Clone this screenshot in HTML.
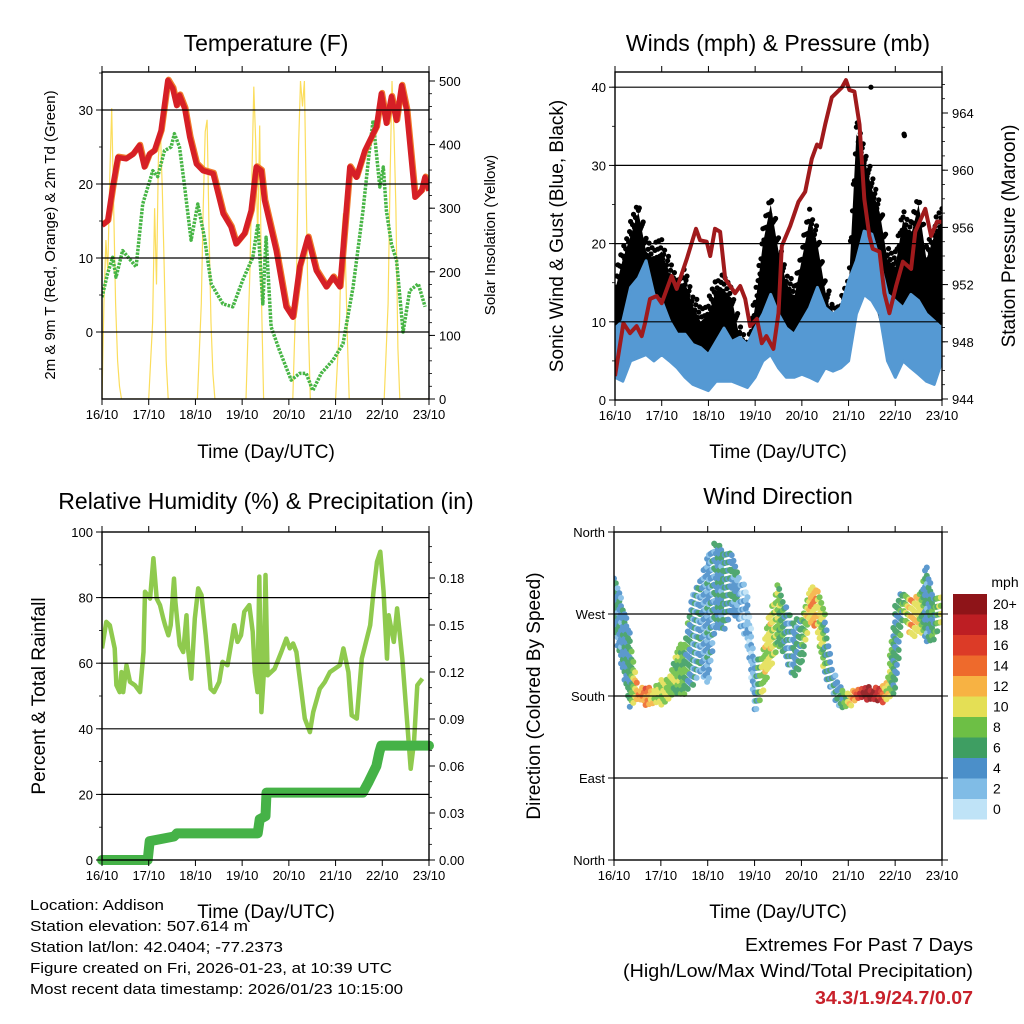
<!DOCTYPE html>
<html><head><meta charset="utf-8"><style>
html,body{margin:0;padding:0;background:#fff;}
svg{display:block;font-family:"Liberation Sans",Arial,sans-serif;}
</style></head><body>
<svg id="chart" width="1024" height="1024" viewBox="0 0 1024 1024" xmlns="http://www.w3.org/2000/svg">
<rect x="0" y="0" width="1024" height="1024" fill="#fff"/>
<text x="266" y="51" font-size="23" text-anchor="middle">Temperature (F)</text>
<text x="778" y="51" font-size="23" text-anchor="middle">Winds (mph) &amp; Pressure (mb)</text>
<text x="266" y="509" font-size="23" text-anchor="middle">Relative Humidity (%) &amp; Precipitation (in)</text>
<text x="778" y="504" font-size="23" text-anchor="middle">Wind Direction</text>
<text x="266" y="458" font-size="19" text-anchor="middle">Time (Day/UTC)</text>
<text x="778" y="458" font-size="19" text-anchor="middle">Time (Day/UTC)</text>
<text x="266" y="918" font-size="19" text-anchor="middle">Time (Day/UTC)</text>
<text x="778" y="918" font-size="19" text-anchor="middle">Time (Day/UTC)</text>
<text transform="translate(55,235) rotate(-90)" font-size="15" text-anchor="middle">2m &amp; 9m T (Red, Orange) &amp; 2m Td (Green)</text>
<text transform="translate(495,235) rotate(-90)" font-size="15" text-anchor="middle">Solar Insolation (Yellow)</text>
<text transform="translate(563,236) rotate(-90)" font-size="19" text-anchor="middle">Sonic Wind &amp; Gust (Blue, Black)</text>
<text transform="translate(1015,236) rotate(-90)" font-size="19" text-anchor="middle">Station Pressure (Maroon)</text>
<text transform="translate(45,696) rotate(-90)" font-size="19" text-anchor="middle">Percent &amp; Total Rainfall</text>
<text transform="translate(540,696) rotate(-90)" font-size="19" text-anchor="middle">Direction (Colored By Speed)</text>
<g font-size="15">
<text x="30" y="910" textLength="134" lengthAdjust="spacingAndGlyphs">Location: Addison</text>
<text x="30" y="931" textLength="218" lengthAdjust="spacingAndGlyphs">Station elevation: 507.614 m</text>
<text x="30" y="952" textLength="253" lengthAdjust="spacingAndGlyphs">Station lat/lon: 42.0404; -77.2373</text>
<text x="30" y="973" textLength="362" lengthAdjust="spacingAndGlyphs">Figure created on Fri, 2026-01-23, at 10:39 UTC</text>
<text x="30" y="994" textLength="373" lengthAdjust="spacingAndGlyphs">Most recent data timestamp: 2026/01/23 10:15:00</text>
</g>
<text x="973" y="951" font-size="18" text-anchor="end" textLength="228" lengthAdjust="spacingAndGlyphs">Extremes For Past 7 Days</text>
<text x="973" y="977" font-size="18" text-anchor="end" textLength="350" lengthAdjust="spacingAndGlyphs">(High/Low/Max Wind/Total Precipitation)</text>
<text x="973" y="1004" font-size="18" font-weight="bold" fill="#c8202a" text-anchor="end" textLength="158" lengthAdjust="spacingAndGlyphs">34.3/1.9/24.7/0.07</text>
</svg>
<script>
// ---------- data ----------
const dayLabels = ["16/10","17/10","18/10","19/10","20/10","21/10","22/10","23/10"];
const tempHours = [0,2.9,5.5,8.1,12.4,15.8,19.2,21.8,24.3,26.9,30.3,33.8,36.3,38.4,39.8,42.5,45.1,48.5,51.9,57.1,62.2,66.3,68.9,73.2,76.6,79.2,81.8,83.5,89.5,94.6,98.1,101.5,105.8,110.1,115.3,118.7,122.2,127.3,130.7,135,141,143.5,146.1,148.7,151.3,153.9,156.5,160.8,164.2,165.9,168];
const tempF = [14.4,15,19.6,23.6,23.4,24,25.2,22.3,24,24.5,27.2,34,32.9,30.6,32,30.2,26.3,22.7,21.8,21.4,16,14.2,11.9,13.3,16.4,22.3,21.8,17.8,11,3.4,2,8.8,12.8,8.3,6.1,7.4,6.1,22.3,20.9,24.5,27.7,32.2,28.2,31.8,28.6,33.3,30,18.2,19.1,20.9,19.1];
const dewHours = [0,2.9,5.5,7.2,10.6,17.5,20.9,26.1,28.6,32.1,35.5,37.2,39.8,42.3,45.8,49.2,52.6,56.1,62.1,67.2,72.3,77.5,80.1,82.6,84.3,86.9,91.2,97.2,101.5,104.9,108.3,112.6,118.7,123.8,129,134.1,137.6,139.3,142.7,144.5,146.1,148.7,151.3,154.7,158.1,162.5,166];
const dewF = [4.7,7.9,10.1,7.4,11,8.8,17.3,21.8,21,24.5,25,26.8,25,20,12.4,17.3,12.8,6.5,3.8,3.4,7,10.1,14.6,3.8,12.8,0.7,-2.5,-6.5,-5.6,-5.6,-7.9,-5.6,-3.8,-1.6,6.1,16.4,25,28.6,19.6,22.3,16.4,11.9,9.7,0,5.6,6.5,3.4];
const solarHours = [0,1,2,3,4,5,6,7,8,9,10,24,26,27,28,29,30,31,32,33,34,49,51,52,53,54,55,56,57,58,74,76,77,78,79,80,81,82,83,98,100,101,102,103,104,105,106,107,120,122,123,124,125,126,127,145,147,148,149,150,151,152,153,168];
const solarW = [0,150,250,200,350,457,300,150,60,20,0,0,120,300,180,380,423,330,200,60,0,0,150,300,420,439,260,120,40,0,0,200,350,491,400,250,430,150,0,0,200,400,500,460,500,300,120,0,0,120,250,292,230,100,0,0,150,350,500,420,300,80,0,0];
const presHours = [0,4.3,7.7,11.1,13.7,15.4,18,21.4,24,29.1,31.7,36.9,41.6,43.7,47.1,48.9,51.4,54,56.6,61.7,64.3,66.9,69.4,72.9,75.4,77.8,81.4,84,85.7,90,94.3,97.7,101.1,103.8,105.4,108,111.4,116.6,118.7,120.4,123,125.6,128.1,130.7,132.4,135.9,138.4,141,144.4,147.9,152.1,154.3,159.4,162.4,165.4,168];
const presMb = [945.6,949.3,948.6,949.1,948.4,949.3,951,951.2,950.7,952.6,951.7,953.8,955.9,955.1,955,954,955.9,955.7,952.4,951.4,951.9,951,949.1,949.6,947.9,948.4,947.5,950,954.7,956.1,957.8,958.5,960.8,961.8,961.6,963.2,965.1,965.8,966.3,965.6,965.5,963.2,958,955.4,954.5,954.3,951.4,950,951.9,953.6,953.1,955.7,957.3,955.4,956.4,956.4];
const windHours = [0,4,8,12,16,20,24,28,32,36,40,44,48,52,56,60,64,68,72,76,80,84,88,92,96,100,104,108,112,116,120,124,128,132,136,140,144,148,152,156,160,164,168];
const windLo = [2.9,2.4,5,5.4,5.8,5,5.8,5,4.1,2.9,2,1.6,1.2,2.4,2.4,2.4,2,1.6,2.9,5,5.8,4.1,2.9,2.9,3.3,2.9,2.4,4.1,3.7,4.1,5,11,13.5,12.7,11,5,2.9,5,4.1,3.3,2.4,2,5];
const windHi = [9.2,10.1,14.4,15.6,17.8,13.5,12.7,10.1,8.4,8.4,7.1,6.7,5.8,7.5,9.2,7.5,8,7.1,9.2,11,13.5,11,9.2,8.4,10.1,11.8,14.4,11.8,11,11.8,15.2,17.8,21.6,21.2,17.8,13.5,12.7,11.8,13.5,12.7,11,10.1,9.2];
const gustLo = [9,9,12,12,11,10,10,8,7,6,5,5,5,6,6,6,4,3,6,10,10,8,6,6,7,6,6,5,5,5,9,14,15,14,10,8,7,10,9,8,6,5,10];
const gustHi = [16,20,23,26,21,20,21,18,16,17,14,12,13,16,16,15,10,8,14,22,27,21,17,15,20,25,22,16,12,13,16,36,33,29,26,20,19,25,23,27,20,23,25];
const gustOutHours = [131.5,148.5,148.7];
const gustOutMph = [40,34,33.8];
const dirHours = [0,4,8,12,16,20,24,28,32,36,40,44,48,52,56,60,64,68,72,76,80,84,88,92,96,100,104,108,112,116,120,124,128,132,136,140,144,148,152,156,160,164,168];
const dirLo = [255,209,168,175,170,170,170,175,183,180,190,205,190,253,250,270,260,240,161,180,209,234,220,198,210,260,250,200,180,165,165,175,175,175,170,175,180,270,240,250,240,240,260];
const dirHi = [311,286,253,190,190,190,198,200,234,240,290,307,337,351,340,340,310,300,220,230,275,304,280,264,270,300,300,270,210,190,185,190,190,190,190,200,280,300,290,290,325,290,290];
const dirSpeed = [5,4,5,13,14,10,9,9,8,7,4,4,3,4,5,5,3,2,3,9,10,8,5,4,6,11,12,6,4,5,9,15,19,20,17,10,5,6,12,10,4,6,9];
const rhHours = [0,2.2,4,6.5,7.4,9.1,10,10.9,12.6,14.4,16.9,19.5,21.3,22.1,24.7,26.4,28.1,29.8,31.5,32.4,34.1,35.3,37,37.7,39.9,41.7,43.4,44.2,45.9,47.7,49.4,51.1,53.3,55.8,57.6,60.2,61.9,64.5,66.2,67.9,69.6,71.4,73.1,75.7,77.4,78.5,79.9,80.8,81.9,83.1,84,85.1,88.7,92.1,94.7,96.5,98.2,99.9,102.5,104.2,106.8,108.5,111.9,114.5,117.1,122.2,124,126.6,128.3,130.9,133.5,137.8,139.5,141.3,143,144.7,146.4,147.3,149.9,151.6,154.3,156.9,158.6,160.3,162,164.6];
const rhPct = [64.5,72.6,71.6,64.5,53.3,51.2,57.3,51.2,59.4,54.3,53.3,51.2,63.4,81.8,79.7,92,79.7,77.7,73.6,71.6,68.5,71.6,85.8,78.7,65.5,63.4,74.6,64.5,55.3,73.6,82.8,80.8,68.5,52.2,51.2,54.3,60.4,59.4,65.5,71.6,66.5,68.5,75.7,77.7,69.6,57.3,51.2,86.4,45.1,56.3,86.9,56.3,58.3,63.4,67.5,64.5,66,63.4,51.2,43.1,39,45.1,52.2,54.3,57.3,59.4,64.5,57.3,44.1,43.1,61.4,71.6,81.8,90.9,94,81.8,61.4,74.6,66.5,76.7,61.4,41,27.8,35.9,53.3,55.3,51.2,55.3,47.1];
const precipHours = [0,23.5,24.5,37,38.5,80,81,84,84.5,134,137,141,142.5,143.5,168];
const precipIn = [0,0,0.012,0.015,0.017,0.017,0.026,0.028,0.043,0.043,0.05,0.06,0.069,0.073,0.073];
const tempTicks = [0,10,20,30];
const solarTicks = [0,100,200,300,400,500];
const windTicks = [0,10,20,30,40];
const presTicks = [944,948,952,956,960,964];
const rhTicks = [0,20,40,60,80,100];
const precipTicks = [0,0.03,0.06,0.09,0.12,0.15,0.18];
const dirTicks = [0,90,180,270,360];
const dirTickLabels = ["North","East","South","West","North"];
const speedLevels = ["0","2","4","6","8","10","12","14","16","18","20+"];
const speedColors = ["#bfe3f7","#80bce6","#4b8fc9","#3e9e62","#6dbf45","#e4df55","#f7b243","#ee6a2c","#dc3b27","#bd1e23","#8e1418"];

// ---------- helpers ----------
const NS = "http://www.w3.org/2000/svg";
const svg = document.getElementById("chart");
function mk(tag, parent, name, interact) {
  const el = document.createElementNS(NS, tag);
  
  
  parent.appendChild(el);
  return el;
}
function setA(el, o) { for (const k in o) el.setAttribute(k, o[k]); return el; }
function lin(d0, d1, r0, r1) { return v => r0 + (v - d0) * (r1 - r0) / (d1 - d0); }
function interp(xs, ys, x) {
  if (x <= xs[0]) return ys[0];
  for (let i = 1; i < xs.length; i++) if (x <= xs[i]) { const t = (x - xs[i-1]) / (xs[i] - xs[i-1]); return ys[i-1] + t * (ys[i] - ys[i-1]); }
  return ys[ys.length - 1];
}
function polyPts(xs, ys, sx, sy) { return xs.map((h, i) => sx(h).toFixed(1) + "," + sy(ys[i]).toFixed(1)).join(" "); }

function panel(id, x0, x1, y0, y1) {
  const g = mk('g', svg, id + '-panel', false);
  const clip = document.createElementNS(NS, 'clipPath');
  clip.setAttribute('id', id + '-clip');
  setA(mk('rect', clip, id + '-clip-rect', false), {x: x0, y: y0, width: x1 - x0, height: y1 - y0});
  svg.appendChild(clip);
  const plot = mk('g', g, id + '-plot-area', false);
  plot.setAttribute('clip-path', 'url(#' + id + '-clip)');
  return {g, plot, x0, x1, y0, y1, sx: lin(0, 168, x0, x1)};
}
function frame(P, leftTicks, sl, leftLabels, rightTicks, sr, rightLabels, minorR, minorL) {
  const axes = mk('g', P.g, 'axes', false);
  leftTicks.forEach((v, i) => {
    const y = sl(v);
    if (y > P.y0 + 1 && y < P.y1 - 1) {
      const gl = mk('line', axes, 'gridline', false);
      setA(gl, {x1: P.x0, x2: P.x1, y1: y, y2: y, stroke: '#000', 'stroke-width': 1.2});
    }
  });
  const box = mk('rect', axes, 'plot-frame', false);
  setA(box, {x: P.x0, y: P.y0, width: P.x1 - P.x0, height: P.y1 - P.y0, fill: 'none', stroke: '#000', 'stroke-width': 1.4});
  dayLabels.forEach((lab, i) => {
    const x = P.sx(i * 24);
    const tb = mk('line', axes, 'x-tick', false);
    setA(tb, {x1: x, x2: x, y1: P.y1, y2: P.y1 + 6, stroke: '#000', 'stroke-width': 1});
    const tt = mk('line', axes, 'x-tick-top', false);
    setA(tt, {x1: x, x2: x, y1: P.y0, y2: P.y0 - 6, stroke: '#000', 'stroke-width': 1});
    const t = mk('text', axes, 'x-tick-label', false);
    setA(t, {x: x, y: P.y1 + 20, 'font-size': 13, 'text-anchor': 'middle'});
    t.textContent = lab;
  });
  leftTicks.forEach((v, i) => {
    const y = sl(v);
    const tk = mk('line', axes, 'y-tick-left', false);
    setA(tk, {x1: P.x0 - 6, x2: P.x0, y1: y, y2: y, stroke: '#000', 'stroke-width': 1});
    const t = mk('text', axes, 'y-tick-label-left', false);
    setA(t, {x: P.x0 - 9, y: y + 5, 'font-size': 13, 'text-anchor': 'end'});
    t.textContent = leftLabels[i];
  });
  if (minorL) minorL.forEach(v => {
    const y = sl(v);
    const tk = mk('line', axes, 'y-minor-tick-left', false);
    setA(tk, {x1: P.x0 - 3, x2: P.x0, y1: y, y2: y, stroke: '#000', 'stroke-width': 0.8});
  });
  if (rightTicks) {
    rightTicks.forEach((v, i) => {
      const y = sr(v);
      const tk = mk('line', axes, 'y-tick-right', false);
      setA(tk, {x1: P.x1, x2: P.x1 + 6, y1: y, y2: y, stroke: '#000', 'stroke-width': 1});
      const t = mk('text', axes, 'y-tick-label-right', false);
      setA(t, {x: P.x1 + 10, y: y + 5, 'font-size': 13, 'text-anchor': 'start'});
      t.textContent = rightLabels[i];
    });
    if (minorR) minorR.forEach(v => {
      const y = sr(v);
      const tk = mk('line', axes, 'y-minor-tick-right', false);
      setA(tk, {x1: P.x1, x2: P.x1 + 3, y1: y, y2: y, stroke: '#000', 'stroke-width': 0.8});
    });
  } else {
    leftTicks.forEach(v => {
      const y = sl(v);
      const tk = mk('line', axes, 'y-tick-right', false);
      setA(tk, {x1: P.x1, x2: P.x1 + 6, y1: y, y2: y, stroke: '#000', 'stroke-width': 1});
    });
  }
}
function range(a, b, s) { const r = []; for (let v = a; v <= b + 1e-9; v += s) r.push(+v.toFixed(4)); return r; }

// ---------- Panel 1: Temperature ----------
{
  const P = panel('temperature', 102, 429, 72, 399);
  const sy = lin(0, 10, 332, 258);
  const sr = lin(0, 500, 399, 81);
  const sol = mk('polyline', P.plot, 'solar-insolation-line', false);
  setA(sol, {points: polyPts(solarHours, solarW, P.sx, sr), fill: 'none', stroke: '#fbd94a', 'stroke-width': 1.2, opacity: 0.9});
  const dew = mk('polyline', P.plot, 'dewpoint-line', false);
  setA(dew, {points: polyPts(dewHours, dewF, P.sx, sy), fill: 'none', stroke: '#47b545', 'stroke-width': 3.5, 'stroke-dasharray': '2.5 1.2', 'stroke-linejoin': 'round'});
  const t9 = mk('polyline', P.plot, 'temp-9m-line', false);
  setA(t9, {points: polyPts(tempHours, tempF, P.sx, sy), fill: 'none', stroke: '#f07a2a', 'stroke-width': 6, 'stroke-linejoin': 'round', transform: 'translate(0.8,-0.8)'});
  const t2 = mk('polyline', P.plot, 'temp-2m-line', false);
  setA(t2, {points: polyPts(tempHours, tempF, P.sx, sy), fill: 'none', stroke: '#d61f26', 'stroke-width': 5.5, 'stroke-linejoin': 'round'});
  frame(P, tempTicks, sy, tempTicks.map(String), solarTicks, sr, solarTicks.map(String), range(0, 500, 20), range(-5, 35, 5));
}

// ---------- Panel 2: Winds & Pressure ----------
{
  const P = panel('winds', 615, 942, 72, 400);
  const sy = lin(0, 10, 400, 321.8);
  const sr = lin(944, 964, 399, 113);
  const gustG = mk('g', P.plot, 'gust-points', false);
  // dense core of gust scatter
  const gp = windHours.map((h, i) => P.sx(h).toFixed(1) + ',' + sy(gustHi[i] - 2).toFixed(1));
  for (let i = windHours.length - 1; i >= 0; i--) gp.push(P.sx(windHours[i]).toFixed(1) + ',' + sy(gustLo[i]).toFixed(1));
  const gband = mk('polygon', gustG, 'gust-band', false);
  setA(gband, {points: gp.join(' '), fill: '#000'});
  // scattered points along upper part
  for (let h = 0; h <= 168; h += 0.5) {
    const lo = interp(windHours, gustLo, h), hi = interp(windHours, gustHi, h);
    const frac = (h * 0.618) % 1;
    const v = hi - 3 + frac * 3;
    const c = mk('circle', gustG, 'gust-point', false);
    setA(c, {cx: P.sx(h).toFixed(1), cy: sy(v).toFixed(1), r: 2.6, fill: '#000'});
  }
  gustOutHours.forEach((h, i) => {
    const c = mk('circle', gustG, 'gust-outlier', false);
    setA(c, {cx: P.sx(h), cy: sy(gustOutMph[i]), r: 2.6, fill: '#000'});
  });
  const pts = windHours.map((h, i) => P.sx(h).toFixed(1) + ',' + sy(windHi[i]).toFixed(1));
  for (let i = windHours.length - 1; i >= 0; i--) pts.push(P.sx(windHours[i]).toFixed(1) + ',' + sy(windLo[i]).toFixed(1));
  const band = mk('polygon', P.plot, 'sonic-wind-band', false);
  setA(band, {points: pts.join(' '), fill: '#5599d3', stroke: '#5599d3', 'stroke-width': 3, 'stroke-linejoin': 'round'});
  const pr = mk('polyline', P.plot, 'pressure-line', false);
  setA(pr, {points: polyPts(presHours, presMb, P.sx, sr), fill: 'none', stroke: '#a01a1c', 'stroke-width': 4, 'stroke-linejoin': 'round'});
  frame(P, windTicks, sy, windTicks.map(String), presTicks, sr, presTicks.map(String), range(944, 966, 1), range(0, 40, 5));
}

// ---------- Panel 3: RH & Precip ----------
{
  const P = panel('humidity', 102, 429, 532, 860);
  const sy = lin(0, 100, 860, 532);
  const sr = lin(0, 0.03, 860, 813);
  const rh = mk('polyline', P.plot, 'relative-humidity-line', false);
  setA(rh, {points: polyPts(rhHours, rhPct, P.sx, sy), fill: 'none', stroke: '#8fca4e', 'stroke-width': 4.5, 'stroke-linejoin': 'round'});
  const pc = mk('polyline', P.g, 'precipitation-line', false);
  setA(pc, {points: polyPts(precipHours, precipIn, P.sx, sr), fill: 'none', stroke: '#45b247', 'stroke-width': 10, 'stroke-linejoin': 'round', 'stroke-linecap': 'round'});
  frame(P, rhTicks, sy, rhTicks.map(String), precipTicks, sr, precipTicks.map(v => v.toFixed(2)), range(0, 0.2, 0.01), range(0, 100, 10));
}

// ---------- Panel 4: Wind direction ----------
{
  const P = panel('direction', 614, 942, 532, 860);
  const sy = lin(0, 360, 860, 532);
  const dg = mk('g', P.plot, 'direction-points', false);
  dg.setAttribute('opacity', '0.9');
  for (let h = 0; h <= 168; h += 0.9) {
    const lo = interp(dirHours, dirLo, h), hi = interp(dirHours, dirHi, h);
    const sp = interp(dirHours, dirSpeed, h);
    const off = (h * 0.618 % 1) * 9;
    for (let v = lo + off; v <= hi; v += 9) {
      const ci = Math.min(10, Math.max(0, Math.round(sp / 2 + ((v * 0.37 + h) % 2) - 1)));
      const c = mk('circle', dg, 'direction-point', false);
      setA(c, {cx: P.sx(h).toFixed(1), cy: sy(v).toFixed(1), r: 3, fill: speedColors[ci]});
    }
  }
  frame(P, dirTicks, sy, dirTickLabels, null, null, null, null, null);
  const cb = mk('g', svg, 'speed-colorbar', false);
  const title = mk('text', cb, 'colorbar-title', false);
  setA(title, {x: 1005, y: 587, 'font-size': 14, 'text-anchor': 'middle'});
  title.textContent = 'mph';
  speedLevels.forEach((lab, i) => {
    const y = 594 + (10 - i) * 20.5;
    const r = mk('rect', cb, 'colorbar-swatch', false);
    setA(r, {x: 953, y: y, width: 34, height: 20.5, fill: speedColors[i]});
    const t = mk('text', cb, 'colorbar-label', false);
    setA(t, {x: 993, y: y + 15, 'font-size': 14});
    t.textContent = lab;
  });
}
</script>
</body></html>
